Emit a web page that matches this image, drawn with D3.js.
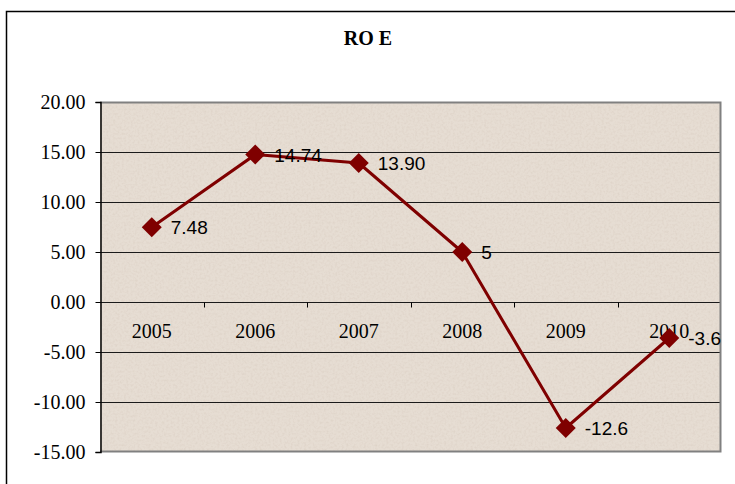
<!DOCTYPE html>
<html>
<head>
<meta charset="utf-8">
<script src="https://cdn.jsdelivr.net/npm/d3@7"></script>
<style>
  body { margin: 0; background: #fff; }
  svg { display: block; }
</style>
</head>
<body>
<div id="chart"></div>
<script>
// Chart data
const years = ["2005", "2006", "2007", "2008", "2009", "2010"];
const roe = [7.48, 14.74, 13.9, 5, -12.6, -3.6];
const roeLabels = ["7.48", "14.74", "13.90", "5", "-12.6", "-3.6"];
const yTicks = [20, 15, 10, 5, 0, -5, -10, -15];

const width = 735, height = 484;
const margin = { top: 102, right: 14, bottom: 32, left: 100 };
const serif = "'Liberation Serif', 'Times New Roman', serif";
const sans = "'Liberation Sans', Arial, sans-serif";

const svg = d3.select("#chart")
  .append("svg")
  .attr("width", width)
  .attr("height", height);

// Light paper-like texture for the plot area
const defs = svg.append("defs");
const filter = defs.append("filter").attr("id", "paper")
  .attr("x", 0).attr("y", 0).attr("width", "100%").attr("height", "100%");
filter.append("feTurbulence")
  .attr("type", "fractalNoise")
  .attr("baseFrequency", 0.45)
  .attr("numOctaves", 2)
  .attr("seed", 7)
  .attr("result", "noise");
filter.append("feColorMatrix")
  .attr("in", "noise")
  .attr("type", "matrix")
  .attr("values", "0 0 0 0 0.70  0 0 0 0 0.62  0 0 0 0 0.54  0 0 0 -1.2 0.72")
  .attr("result", "spots");
filter.append("feComposite")
  .attr("in", "spots")
  .attr("in2", "SourceGraphic")
  .attr("operator", "in")
  .attr("result", "clipped");
filter.append("feMerge").call(m => {
  m.append("feMergeNode").attr("in", "SourceGraphic");
  m.append("feMergeNode").attr("in", "clipped");
});

// Outer chart frame (runs off the right and bottom edges)
svg.append("rect")
  .attr("x", 6.5).attr("y", 11.5)
  .attr("width", 740).attr("height", 480)
  .attr("fill", "#fff")
  .attr("stroke", "#000")
  .attr("stroke-width", 1.5);

const x = d3.scaleBand()
  .domain(years)
  .range([margin.left, width - margin.right]);

const y = d3.scaleLinear()
  .domain([-15, 20])
  .range([height - margin.bottom, margin.top]);

// Plot area background
svg.append("rect")
  .attr("x", margin.left).attr("y", y(20))
  .attr("width", width - margin.right - margin.left)
  .attr("height", y(-15) - y(20))
  .attr("fill", "#e6ddd3")
  .attr("filter", "url(#paper)");

// Horizontal gridlines
svg.append("g")
  .selectAll("line")
  .data(yTicks.filter(d => d !== 20 && d !== -15))
  .enter()
  .append("line")
  .attr("x1", margin.left)
  .attr("x2", width - margin.right)
  .attr("y1", d => Math.round(y(d)) + 0.5)
  .attr("y2", d => Math.round(y(d)) + 0.5)
  .attr("stroke", "#1a1a1a")
  .attr("stroke-width", 1);

// Plot area border: grey top, right, bottom
svg.append("path")
  .attr("d", `M${margin.left},${y(20) + 0.5}H${width - margin.right - 0.5}V${y(-15) - 0.5}H${margin.left}`)
  .attr("fill", "none")
  .attr("stroke", "#808080")
  .attr("stroke-width", 2);

// Y axis (plain hyphen for negatives, like the original)
const yAxis = svg.append("g")
  .attr("transform", `translate(${margin.left + 0.5},0)`)
  .call(d3.axisLeft(y).tickValues(yTicks).tickSize(5).tickPadding(10)
    .tickFormat(d => d.toFixed(2)));
yAxis.attr("font-family", serif).attr("font-size", 20);
yAxis.select(".domain").attr("stroke", "#000").attr("stroke-width", 1.5);
yAxis.selectAll(".tick line").attr("stroke", "#000");
yAxis.selectAll("text")
  .attr("dy", "0.34em")
  .attr("fill", "#000");

// X axis on the zero line, tick marks at category boundaries
const xAxisG = svg.append("g")
  .attr("transform", `translate(0,${Math.round(y(0)) + 0.5})`);
xAxisG.selectAll("line")
  .data(years.slice(1))
  .enter()
  .append("line")
  .attr("x1", d => Math.round(x(d)) + 0.5)
  .attr("x2", d => Math.round(x(d)) + 0.5)
  .attr("y1", 0)
  .attr("y2", 5)
  .attr("stroke", "#000");
xAxisG.selectAll("text")
  .data(years)
  .enter()
  .append("text")
  .attr("x", d => x(d) + x.bandwidth() / 2)
  .attr("y", 35)
  .attr("text-anchor", "middle")
  .attr("font-family", serif)
  .attr("font-size", 20)
  .attr("fill", "#000")
  .text(d => d);

// Line
const points = years.map((yr, i) => ({ year: yr, value: roe[i], label: roeLabels[i] }));
const line = d3.line()
  .x(d => x(d.year) + x.bandwidth() / 2)
  .y(d => y(d.value));

svg.append("path")
  .datum(points)
  .attr("d", line)
  .attr("fill", "none")
  .attr("stroke", "#7f0000")
  .attr("stroke-width", 3)
  .attr("stroke-linejoin", "round");

// Diamond markers
svg.append("g")
  .selectAll("path")
  .data(points)
  .enter()
  .append("path")
  .attr("transform", d => `translate(${x(d.year) + x.bandwidth() / 2},${y(d.value)})`)
  .attr("d", "M0,-10L10,0L0,10L-10,0Z")
  .attr("fill", "#7f0000");

// Data labels
svg.append("g")
  .selectAll("text")
  .data(points)
  .enter()
  .append("text")
  .attr("x", d => x(d.year) + x.bandwidth() / 2 + 19)
  .attr("y", d => y(d.value) + 7)
  .attr("font-family", sans)
  .attr("font-size", 19)
  .attr("fill", "#000")
  .text(d => d.label);

// Title
svg.append("text")
  .attr("x", 368)
  .attr("y", 45)
  .attr("text-anchor", "middle")
  .attr("font-family", serif)
  .attr("font-weight", "bold")
  .attr("font-size", 20)
  .attr("fill", "#000")
  .text("RO E");
</script>
</body>
</html>
